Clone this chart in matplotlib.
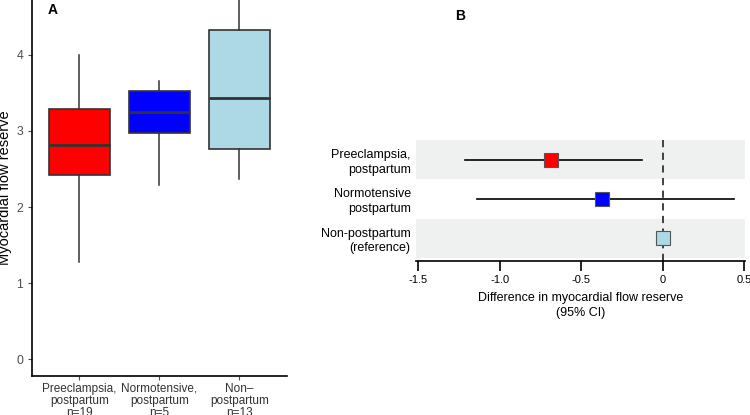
import matplotlib.pyplot as plt
import numpy as np

plt.rcParams['font.family'] = ['Liberation Sans', 'DejaVu Sans']

# Panel A data (box plot summaries)
groups = ['Preeclampsia,\npostpartum\nn=19', 'Normotensive,\npostpartum\nn=5', 'Non\u2013\npostpartum\nn=13']
whislo = [1.28, 2.29, 2.37]
q1 = [2.42, 2.97, 2.76]
med = [2.82, 3.25, 3.43]
q3 = [3.29, 3.53, 4.32]
whishi = [4.00, 3.66, 4.90]
box_colors = ['#FF0000', '#0000FF', '#ADD8E6']

# Panel B data (forest plot)
labels_b = ['Preeclampsia,\npostpartum', 'Normotensive\npostpartum', 'Non-postpartum\n(reference)']
est = [-0.685, -0.37, 0.0]
ci_lo = [-1.21, -1.14, 0.0]
ci_hi = [-0.13, 0.44, 0.0]

fig = plt.figure(figsize=(7.5, 4.15), dpi=100)

# ---- Panel A ----
ax1 = fig.add_axes([0.043, 0.094, 0.340, 0.906])
stats = []
for i in range(3):
    stats.append(dict(whislo=whislo[i], q1=q1[i], med=med[i], q3=q3[i], whishi=whishi[i], fliers=[]))
bp = ax1.bxp(stats, positions=[1, 2, 3], widths=0.76, patch_artist=True, showcaps=False,
             boxprops=dict(edgecolor='#333333', linewidth=1.2),
             medianprops=dict(color='#333333', linewidth=2),
             whiskerprops=dict(color='#333333', linewidth=1.1))
for patch, c in zip(bp['boxes'], box_colors):
    patch.set_facecolor(c)
    patch.set_zorder(2)
ax1.set_xlim(0.41, 3.6)
ax1.set_ylim(-0.22, 4.72)
ax1.set_yticks([0, 1, 2, 3, 4])
ax1.set_xticks([1, 2, 3])
ax1.set_xticklabels(groups, linespacing=1.0)
ax1.tick_params(labelsize=8.8, colors='#4d4d4d', length=3)
ax1.tick_params(axis='x', labelcolor='#333333', labelsize=8.5, pad=2)
ax1.spines['top'].set_visible(False)
ax1.spines['right'].set_visible(False)
ax1.spines['left'].set_linewidth(1.2)
ax1.spines['bottom'].set_linewidth(1.2)
ax1.set_ylabel('Myocardial flow reserve', fontsize=10.5, labelpad=3)
fig.text(0.064, 0.975, 'A', fontsize=10, fontweight='bold', va='center')

# ---- Panel B ----
ax2 = fig.add_axes([0.555, 0.371, 0.438, 0.292])
ypos = [3, 2, 1]
for y in ypos:
    if y != 2:
        ax2.axhspan(y - 0.5, y + 0.5, color='#EFF1F0', zorder=0, lw=0)
ax2.axvline(0, color='#333333', ls=(0, (4, 3)), lw=1.3, zorder=1)
for i in range(3):
    ax2.plot([ci_lo[i], ci_hi[i]], [ypos[i], ypos[i]], color='black', lw=1.2, zorder=2)
    ax2.plot(est[i], ypos[i], marker='s', ms=10.5, mfc=box_colors[i], mec='#555555', mew=0.8, zorder=3)
ax2.set_xlim(-1.512, 0.503)
ax2.set_ylim(0.42, 3.5)
ax2.set_xticks([-1.5, -1.0, -0.5, 0, 0.5])
ax2.set_xticklabels(['-1.5', '-1.0', '-0.5', '0', '0.5'])
ax2.set_yticks(ypos)
ax2.set_yticklabels(labels_b, linespacing=1.3)
ax2.tick_params(axis='y', length=0, labelsize=9, pad=4)
ax2.tick_params(axis='x', labelsize=8, length=7, width=1.2, pad=3)
for s in ['top', 'right', 'left']:
    ax2.spines[s].set_visible(False)
ax2.spines['bottom'].set_linewidth(1.2)
ax2.set_xlabel('Difference in myocardial flow reserve\n(95% CI)', fontsize=9, labelpad=5, linespacing=1.3)
fig.text(0.607, 0.962, 'B', fontsize=10, fontweight='bold', va='center')

fig.savefig('out.png', dpi=100)
